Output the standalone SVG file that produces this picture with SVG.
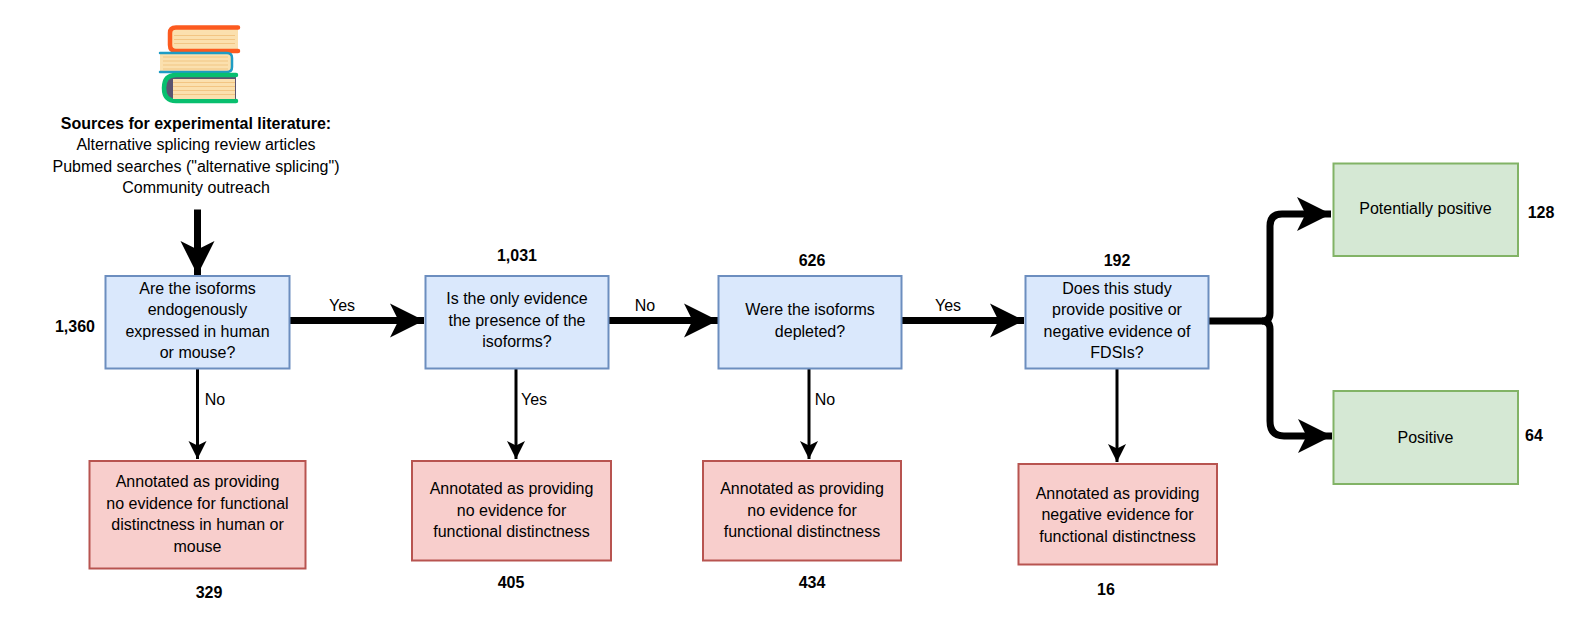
<svg xmlns="http://www.w3.org/2000/svg" width="1575" height="626" viewBox="0 0 1575 626">
<defs>
<marker id="ah" markerUnits="userSpaceOnUse" markerWidth="36" markerHeight="36" refX="34" refY="17" orient="auto" overflow="visible"><path d="M0 0L34 17L0 34L8.5 17Z" fill="#000"/></marker>
<marker id="as" markerUnits="userSpaceOnUse" markerWidth="20" markerHeight="20" refX="18" refY="9" orient="auto" overflow="visible"><path d="M0 0L18 9L0 18L4.5 9Z" fill="#000"/></marker>
<marker id="am" markerUnits="userSpaceOnUse" markerWidth="30" markerHeight="30" refX="28" refY="14" orient="auto" overflow="visible"><path d="M0 0L14 28L28 0L14 7Z" transform="rotate(-90 14 14)" fill="#000"/></marker>
</defs>
<style>
text{font-family:"Liberation Sans",Arial,sans-serif;font-size:16px;fill:#000;text-anchor:middle}
.b{font-weight:bold}
.blue{fill:#dae8fc;stroke:#6c8ebf;stroke-width:2}
.red{fill:#f8cecc;stroke:#b85450;stroke-width:2}
.green{fill:#d5e8d4;stroke:#82b366;stroke-width:2}
.thick{fill:none;stroke:#000;stroke-width:7}
.thin{fill:none;stroke:#000;stroke-width:3}
</style>
<rect width="1575" height="626" fill="#fff"/>
<g id="books">
<path d="M238 27.500H176Q170 27.500 170 33V45Q170 51 176 51H238" fill="#fbe0ae" stroke="#fc5a1f" stroke-width="4.500" stroke-linecap="round"/>
<path d="M174 32H235V46H174Z" fill="#fbe0ae"/>
<path d="M174 35.500H235M174 39.500H235M174 43.500H235" stroke="#f2c583" stroke-width="1.200"/>
<path d="M160 53H227Q232 53 232 58V67Q232 72 227 72H160" fill="#fbe0ae" stroke="#1f9cc4" stroke-width="2.500" stroke-linecap="round"/>
<path d="M163 57H228M163 61H228M163 65H228M163 69H228" stroke="#f2c583" stroke-width="1.200"/>
<path d="M236 75H176Q164 75 164 88Q164 101 176 101H236" fill="#5b5470" stroke="#08bf6f" stroke-width="4.500" stroke-linecap="round"/>
<path d="M173 79H235V99H173Z" fill="#fbe0ae"/>
<path d="M173 82.500H235M173 86.500H235M173 90.500H235M173 94.500H235" stroke="#f2c583" stroke-width="1.200"/>
</g>
<g id="sources">
<text class="b" x="196" y="129">Sources for experimental literature:</text>
<text x="196" y="150">Alternative splicing review articles</text>
<text x="196" y="172">Pubmed searches ("alternative splicing")</text>
<text x="196" y="193">Community outreach</text>
</g>
<g id="connectors">
<path class="thick" d="M197.500 209.500V275" marker-end="url(#ah)"/>
<path class="thick" d="M289 320.500H424" marker-end="url(#ah)"/>
<path class="thick" d="M608 320.500H718" marker-end="url(#ah)"/>
<path class="thick" d="M901 320.500H1024" marker-end="url(#ah)"/>
<path class="thick" d="M1208 321H1262Q1270 321 1270 313V226Q1270 214 1282 214H1331" marker-end="url(#ah)"/>
<path class="thick" d="M1262 321Q1270 321 1270 329V421Q1270 436 1284 436H1332" marker-end="url(#ah)"/>
<path class="thin" d="M197.500 368V459" marker-end="url(#as)"/>
<path class="thin" d="M516 368V459" marker-end="url(#as)"/>
<path class="thin" d="M809 368V459" marker-end="url(#as)"/>
<path class="thin" d="M1117 368V462" marker-end="url(#as)"/>
</g>
<g id="n1"><rect class="blue" x="105.500" y="276" width="184" height="92.500"/><text x="197.500" y="294">Are the isoforms</text><text x="197.500" y="315">endogenously</text><text x="197.500" y="337">expressed in human</text><text x="197.500" y="358">or mouse?</text></g>
<g id="n2"><rect class="blue" x="425.500" y="276" width="183" height="92.500"/><text x="517" y="304">Is the only evidence</text><text x="517" y="326">the presence of the</text><text x="517" y="347">isoforms?</text></g>
<g id="n3"><rect class="blue" x="718.500" y="276" width="183" height="92.500"/><text x="810" y="315">Were the isoforms</text><text x="810" y="337">depleted?</text></g>
<g id="n4"><rect class="blue" x="1025.500" y="276" width="183" height="92.500"/><text x="1117" y="294">Does this study</text><text x="1117" y="315">provide positive or</text><text x="1117" y="337">negative evidence of</text><text x="1117" y="358">FDSIs?</text></g>
<g id="r1"><rect class="red" x="89.500" y="461" width="216" height="107.500"/><text x="197.500" y="487">Annotated as providing</text><text x="197.500" y="509">no evidence for functional</text><text x="197.500" y="530">distinctness in human or</text><text x="197.500" y="552">mouse</text></g>
<g id="r2"><rect class="red" x="412" y="461" width="199" height="99.500"/><text x="511.500" y="494">Annotated as providing</text><text x="511.500" y="516">no evidence for</text><text x="511.500" y="537">functional distinctness</text></g>
<g id="r3"><rect class="red" x="703" y="461" width="198" height="99.500"/><text x="802" y="494">Annotated as providing</text><text x="802" y="516">no evidence for</text><text x="802" y="537">functional distinctness</text></g>
<g id="r4"><rect class="red" x="1018.500" y="464" width="198.500" height="100.500"/><text x="1117.500" y="499">Annotated as providing</text><text x="1117.500" y="520">negative evidence for</text><text x="1117.500" y="542">functional distinctness</text></g>
<g id="g1"><rect class="green" x="1333.500" y="163.500" width="184.500" height="92.500"/><text x="1425.500" y="214">Potentially positive</text></g>
<g id="g2"><rect class="green" x="1333.500" y="391" width="184.500" height="93"/><text x="1425.500" y="443">Positive</text></g>
<g id="labels">
<text x="342" y="311">Yes</text><text x="645" y="311">No</text><text x="948" y="311">Yes</text>
<text x="215" y="405">No</text><text x="534" y="405">Yes</text><text x="825" y="405">No</text>
<text class="b" x="75" y="332">1,360</text><text class="b" x="517" y="261">1,031</text><text class="b" x="812" y="266">626</text><text class="b" x="1117" y="266">192</text>
<text class="b" x="209" y="598">329</text><text class="b" x="511" y="588">405</text><text class="b" x="812" y="588">434</text><text class="b" x="1106" y="595">16</text>
<text class="b" x="1541" y="218">128</text><text class="b" x="1534" y="441">64</text>
</g>
</svg>
